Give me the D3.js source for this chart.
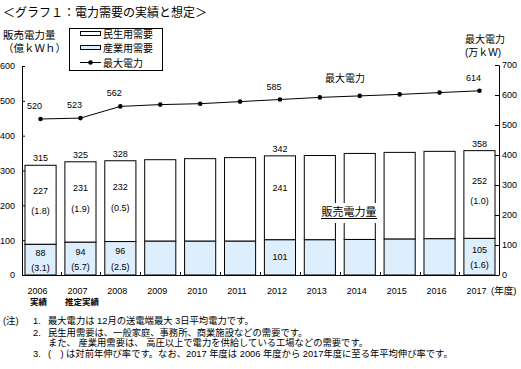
<!DOCTYPE html>
<html><head><meta charset="utf-8">
<script src="https://cdn.jsdelivr.net/npm/d3@7"></script>
<style>
html,body{margin:0;padding:0;background:#fff;}
svg{display:block;font-family:"Liberation Sans","Noto Sans CJK JP",sans-serif;}
</style></head>
<body>
<svg id="c" width="521" height="369"></svg>
<script>
const years = ["2006","2007","2008","2009","2010","2011","2012","2013","2014","2015","2016","2017"];
const residential = [227,231,232,234,237,240,241,242,247,249,251,252];
const industrial = [88,94,96,97,97,97,101,101,102,103,104,105];
const maxPower = [520,523,562,568,571,578,585,592,597,602,608,614];
const totalLabels = ["315","325","328","","","","342","","","","","358"];
const resLabels = ["227","231","232","","","","241","","","","","252"];
const resGrowth = ["(1.8)","(1.9)","(0.5)","","","","","","","","","(1.0)"];
const indLabels = ["88","94","96","","","","101","","","","","105"];
const indGrowth = ["(3.1)","(5.7)","(2.5)","","","","","","","","","(1.6)"];
const maxLabels = ["520","523","562","","","","585","","","","","614"];
const leftTicks = [0,100,200,300,400,500,600];
const rightTicks = [0,100,200,300,400,500,600,700];
const subLabels = ["実績","推定実績","","","","","","","","","",""];
const notes = [
  ["(注)","1.","最大電力は 12月の送電端最大 3日平均電力です。"],
  ["","2.","民生用需要は、一般家庭、事務所、商業施設などの需要です。"],
  ["","","また、 産業用需要は、 高圧以上で電力を供給している工場などの需要です。"],
  ["","3.","(　) は対前年伸び率です。なお、2017 年度は 2006 年度から 2017年度に至る年平均伸び率です。"]
];

const svg = d3.select("#c");
const BLUE = "#ddeefc";
const x = d3.scaleBand().domain(years).range([21,499]).paddingInner(0.22).paddingOuter(0.1);
const yL = d3.scaleLinear().domain([0,600]).range([275,66]);
const yR = d3.scaleLinear().domain([0,700]).range([275,65]);
const bw = x.bandwidth();
const cx = d => x(d) + bw/2;

// title
svg.append("text").attr("x",3).attr("y",17).attr("font-size",12).text("＜グラフ１：電力需要の実績と想定＞");

// axis titles
svg.append("text").attr("x",3).attr("y",39).attr("font-size",10.5).text("販売電力量");
svg.append("text").attr("x",3).attr("y",52).attr("font-size",10.5).text("（億ｋＷｈ）");
svg.append("text").attr("x",485).attr("y",43).attr("font-size",10).attr("text-anchor","middle").text("最大電力");
svg.append("text").attr("x",483).attr("y",55.5).attr("font-size",10).attr("text-anchor","middle").text("(万ｋW)");

// bars
const g = svg.append("g");
years.forEach((yr,i)=>{
  const tot = industrial[i]+residential[i];
  g.append("rect").attr("x",x(yr)).attr("y",yL(tot)).attr("width",bw).attr("height",yL(industrial[i])-yL(tot))
    .attr("fill","#fff").attr("stroke","#000").attr("stroke-width",1);
  g.append("rect").attr("x",x(yr)).attr("y",yL(industrial[i])).attr("width",bw).attr("height",yL(0)-yL(industrial[i]))
    .attr("fill",BLUE).attr("stroke","#000").attr("stroke-width",1);
});

// label box 販売電力量
svg.append("rect").attr("x",320).attr("y",203).attr("width",58).attr("height",20).attr("fill","#fff");
svg.append("text").attr("x",349).attr("y",215.5).attr("font-size",11).attr("text-anchor","middle").text("販売電力量");
svg.append("line").attr("x1",321).attr("x2",377).attr("y1",218.5).attr("y2",218.5).attr("stroke","#000").attr("stroke-width",1);

// axes
const axL = d3.axisLeft(yL).tickValues(leftTicks).tickSizeInner(-3).tickSizeOuter(0).tickPadding(7);
const gL = svg.append("g").attr("transform","translate(22,0)").call(axL);
const axR = d3.axisRight(yR).tickValues(rightTicks).tickSizeInner(-4).tickSizeOuter(0).tickPadding(3);
const gR = svg.append("g").attr("transform","translate(499,0)").call(axR);
[gL,gR].forEach(a=>{
  a.selectAll("text").attr("font-size",9).attr("fill","#000").attr("font-family","'Liberation Sans',sans-serif");
  a.selectAll("line,path").attr("stroke","#000");
});
// baseline
svg.append("line").attr("x1",22).attr("x2",499).attr("y1",275.5).attr("y2",275.5).attr("stroke","#000");
years.slice(0,-1).forEach(yr=>{
  const bx = Math.round(x(yr)+bw+(x.step()-bw)/2)+0.5;
  svg.append("line").attr("x1",bx).attr("x2",bx).attr("y1",275).attr("y2",272).attr("stroke","#000");
});
// x labels
years.forEach((yr,i)=>{
  svg.append("text").attr("x",cx(yr)-3).attr("y",294).attr("font-size",9).attr("text-anchor","middle").text(yr);
  if(subLabels[i]) svg.append("text").attr("x",x(yr)+ (i===0?5:0)).attr("y",305).attr("font-size",8.5).attr("font-weight","bold").text(subLabels[i]);
});
svg.append("text").attr("x",491).attr("y",294).attr("font-size",9.5).text("(年度)");

// bar labels
years.forEach((yr,i)=>{
  const tot = industrial[i]+residential[i];
  const c = cx(yr);
  const resMid = (yL(tot)+yL(industrial[i]))/2;
  const indMid = (yL(industrial[i])+yL(0))/2;
  const t = (xx,yy,s)=>svg.append("text").attr("x",xx).attr("y",yy).attr("font-size",9).attr("text-anchor","middle").text(s);
  if(totalLabels[i]) t(c, yL(tot)-4, totalLabels[i]);
  if(resLabels[i]) t(c, resMid-(resGrowth[i]?11:7), resLabels[i]);
  if(resGrowth[i]) t(c, resMid+9.5, resGrowth[i]);
  if(indLabels[i]) t(c, indMid+(indGrowth[i]?-4:3), indLabels[i]);
  if(indGrowth[i]) t(c, indMid+11.5, indGrowth[i]);
});

// max power line
const line = d3.line().x((d,i)=>cx(years[i])).y(d=>yR(d));
svg.append("path").datum(maxPower).attr("d",line).attr("fill","none").attr("stroke","#000").attr("stroke-width",1);
svg.selectAll("circle.mp").data(maxPower).enter().append("circle")
  .attr("cx",(d,i)=>cx(years[i])).attr("cy",d=>yR(d)).attr("r",2.3).attr("fill","#000");
maxPower.forEach((v,i)=>{
  if(maxLabels[i]) svg.append("text").attr("x",cx(years[i])-6).attr("y",yR(v)-10).attr("font-size",9).attr("text-anchor","middle").text(maxLabels[i]);
});
svg.append("text").attr("x",345).attr("y",82).attr("font-size",10).attr("text-anchor","middle").text("最大電力");

// legend
const lg = svg.append("g");
lg.append("rect").attr("x",69.5).attr("y",28.5).attr("width",93).attr("height",42).attr("fill","#fff").attr("stroke","#000");
lg.append("rect").attr("x",80.5).attr("y",31.5).attr("width",20).attr("height",4).attr("fill","#fff").attr("stroke","#000");
lg.append("text").attr("x",103).attr("y",37.5).attr("font-size",10).text("民生用需要");
lg.append("rect").attr("x",80.5).attr("y",45.5).attr("width",20).attr("height",4).attr("fill",BLUE).attr("stroke","#000");
lg.append("text").attr("x",103).attr("y",52).attr("font-size",10).text("産業用需要");
lg.append("line").attr("x1",80).attr("x2",101).attr("y1",62.5).attr("y2",62.5).attr("stroke","#000");
lg.append("circle").attr("cx",90.5).attr("cy",62.5).attr("r",2.3).attr("fill","#000");
lg.append("text").attr("x",103).attr("y",66.5).attr("font-size",10).text("最大電力");

// notes
const nb = [324,335.5,346,357];
notes.forEach((n,i)=>{
  if(n[0]) svg.append("text").attr("x",3).attr("y",nb[i]).attr("font-size",9.3).text(n[0]);
  if(n[1]) svg.append("text").attr("x",33).attr("y",nb[i]).attr("font-size",9.3).text(n[1]);
  svg.append("text").attr("x",48).attr("y",nb[i]).attr("font-size",9.3).text(n[2]);
});
</script>
</body></html>
